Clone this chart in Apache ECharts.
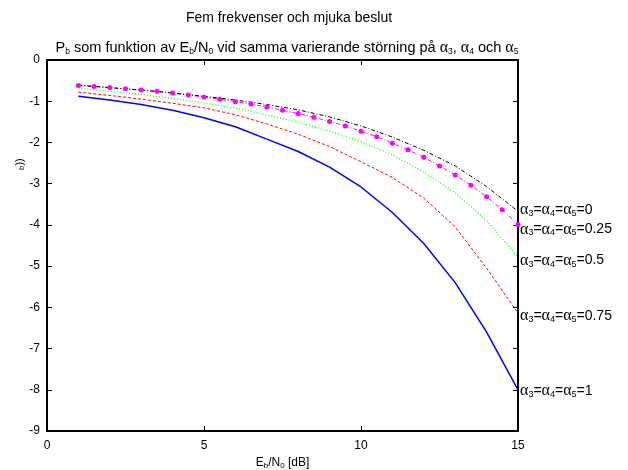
<!DOCTYPE html>
<html><head><meta charset="utf-8">
<script src="https://cdn.jsdelivr.net/npm/echarts@6/dist/echarts.min.js"></script>
<style>html,body{margin:0;padding:0;background:#fff}#c{width:628px;height:470px}</style>
</head><body><div id="c"></div>
<script>
var xInt = [1,2,3,4,5,6,7,8,9,10,11,12,13,14,15];
var xHalf = [1,1.5,2,2.5,3,3.5,4,4.5,5,5.5,6,6.5,7,7.5,8,8.5,9,9.5,10,10.5,11,11.5,12,12.5,13,13.5,14,14.5,15];
var alpha0 = [-0.61,-0.67,-0.73,-0.80,-0.88,-0.97,-1.08,-1.21,-1.38,-1.60,-1.87,-2.19,-2.57,-3.07,-3.67];
var alpha025 = [-0.62,-0.645,-0.67,-0.70,-0.73,-0.76,-0.80,-0.85,-0.90,-0.95,-1.01,-1.07,-1.14,-1.22,-1.30,-1.39,-1.49,-1.60,-1.73,-1.86,-2.02,-2.18,-2.36,-2.57,-2.79,-3.04,-3.32,-3.63,-3.99];
var alpha05 = [-0.69,-0.76,-0.84,-0.93,-1.04,-1.17,-1.33,-1.51,-1.73,-1.98,-2.30,-2.72,-3.22,-3.90,-4.77];
var alpha075 = [-0.78,-0.86,-0.95,-1.05,-1.16,-1.33,-1.55,-1.80,-2.10,-2.47,-2.85,-3.35,-4.05,-5.05,-6.14];
var alpha1 = [-0.88,-0.97,-1.08,-1.22,-1.40,-1.62,-1.92,-2.22,-2.60,-3.08,-3.70,-4.45,-5.40,-6.60,-8.00];
var seriesNames = ['0','0.25','0.5','0.75','1'];
var yTicks = {min:-9, max:0, interval:1};
var xTicks = {min:0, max:15, interval:5};

function pairs(xs, ys){ return xs.map(function(x,i){return [x, ys[i]];}); }
function lab(v){
  return '{a|α}{s|3}{t|=}{a|α}{s|4}{t|=}{a|α}{s|5}{t|=' + v + '}';
}
var richLab = {
  a:{fontFamily:'Liberation Serif',fontSize:16,color:'#000'},
  s:{fontFamily:'Liberation Sans',fontSize:9,color:'#000',verticalAlign:'bottom',padding:[6,0,0,0]},
  t:{fontFamily:'Liberation Sans',fontSize:14,color:'#000'}
};
function mk(name, xs, ys, color, lineType, width, off, extra){
  var s = {
    name:name, type:'line', data:pairs(xs, ys), symbol:'none',
    lineStyle:{color:color, width:width, type:lineType},
    itemStyle:{color:color},
    animation:false, silent:true,
    endLabel:{show:true, distance:2, offset:[0,off], formatter:function(){return lab(name);}, rich:richLab}
  };
  for (var k in extra) s[k]=extra[k];
  return s;
}
var chart = echarts.init(document.getElementById('c'));
var axisFont = {fontFamily:'Liberation Sans', fontSize:12, color:'#000'};
var subRich = {
  t:{fontFamily:'Liberation Sans', fontSize:14.5, fontWeight:'normal', color:'#000'},
  a:{fontFamily:'Liberation Serif', fontSize:16, fontWeight:'normal', color:'#000'},
  s:{fontFamily:'Liberation Sans', fontSize:8.5, fontWeight:'normal', color:'#000', verticalAlign:'bottom', padding:[7,0,0,0]}
};
chart.setOption({
  backgroundColor:'#fff',
  animation:false,
  title:[
    {text:'Fem frekvenser och mjuka beslut', left:284, top:6, textAlign:'center',
     textStyle:{fontFamily:'Liberation Sans', fontSize:14, fontWeight:'normal', color:'#000'}},
    {text:'{t|P}{s|b}{t| som funktion av E}{s|b}{t|/N}{s|0}{t| vid samma varierande störning på }{a|α}{s|3}{t|, }{a|α}{s|4}{t| och }{a|α}{s|5}',
     left:282, top:35, textAlign:'center',
     textStyle:{fontWeight:'normal', rich:subRich}}
  ],
  graphic:[
    {type:'text', x:14, y:170, rotation:Math.PI/2, silent:true,
     style:{text:'{s|b}{t|))}', rich:{
       t:{fontFamily:'Liberation Sans',fontSize:11,color:'#000'},
       s:{fontFamily:'Liberation Sans',fontSize:8,color:'#000',verticalAlign:'bottom',padding:[4,0,0,0]}}}}
  ],
  grid:{left:47, right:110, top:60, bottom:39, containLabel:false, outerBoundsMode:'none'},
  xAxis:[
    {type:'value', min:xTicks.min, max:xTicks.max, interval:xTicks.interval,
     name:'{t|E}{s|b}{t|/N}{s|0}{t| [dB]}', nameLocation:'middle', nameGap:25,
     nameTextStyle:{rich:{t:{fontFamily:'Liberation Sans',fontSize:12,color:'#000'},
       s:{fontFamily:'Liberation Sans',fontSize:8,color:'#000',verticalAlign:'bottom',padding:[5,0,0,0]}}},
     axisLine:{show:true, onZero:false, lineStyle:{color:'#000', width:2}},
     axisTick:{show:true, inside:true, length:5, lineStyle:{color:'#000', width:1}},
     axisLabel:Object.assign({margin:9}, axisFont),
     splitLine:{show:false}},
    {type:'value', position:'top', min:xTicks.min, max:xTicks.max, interval:xTicks.interval,
     axisLine:{show:true, onZero:false, lineStyle:{color:'#000', width:2}},
     axisTick:{show:true, inside:true, length:5, lineStyle:{color:'#000', width:1}},
     axisLabel:{show:false}, splitLine:{show:false}}
  ],
  yAxis:[
    {type:'value', min:yTicks.min, max:yTicks.max, interval:yTicks.interval,
     axisLine:{show:true, onZero:false, lineStyle:{color:'#000', width:2}},
     axisTick:{show:true, inside:true, length:5, lineStyle:{color:'#000', width:1}},
     axisLabel:Object.assign({margin:7}, axisFont),
     splitLine:{show:false}},
    {type:'value', position:'right', min:yTicks.min, max:yTicks.max, interval:yTicks.interval,
     axisLine:{show:true, onZero:false, lineStyle:{color:'#000', width:2}},
     axisTick:{show:true, inside:true, length:5, lineStyle:{color:'#000', width:1}},
     axisLabel:{show:false}, splitLine:{show:false}}
  ],
  series:[
    mk(seriesNames[4], xInt, alpha1, '#0000ff', 'solid', 1.5, 1, {}),
    mk(seriesNames[3], xInt, alpha075, '#ff0000', [3,2], 1, 3, {}),
    mk(seriesNames[2], xInt, alpha05, '#00ff00', [1,2], 1.2, 4, {}),
    mk(seriesNames[1], xHalf, alpha025, '#ff00ff', [4,2,1,2], 1, 5, {symbol:'circle', symbolSize:5, showSymbol:true}),
    mk(seriesNames[0], xInt, alpha0, '#000000', [4,2,1,2], 1, -1, {})
  ]
});
</script></body></html>
